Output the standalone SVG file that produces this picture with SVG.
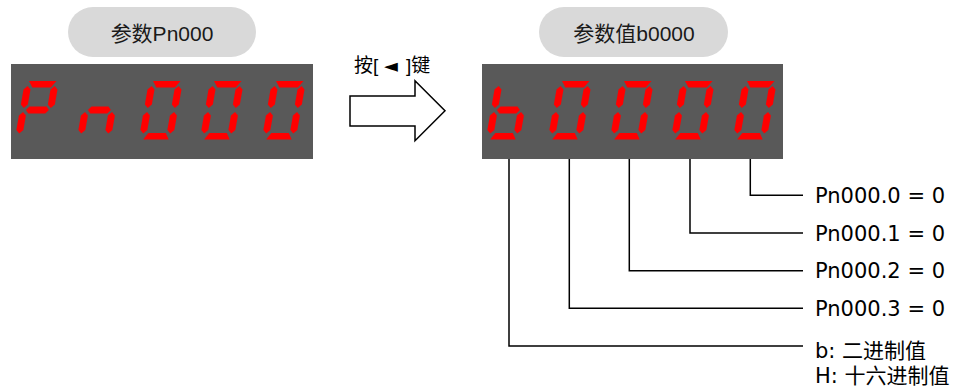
<svg xmlns="http://www.w3.org/2000/svg" width="957" height="389" viewBox="0 0 957 389">
  <style>
    .pill { fill: #d9d9d9; }
    .pilltxt { font-family: "Liberation Sans", "Noto Sans CJK SC", sans-serif; font-size: 21px; fill: #1a1a1a; text-anchor: middle; }
    .panel { fill: #595959; }
    .seg { fill: #ff0000; }
    .conn { fill: none; stroke: #000; stroke-width: 1.5; }
    .lbl { font-family: "DejaVu Sans", "Noto Sans CJK SC", sans-serif; font-size: 21px; fill: #000; }
    .arrowtxt { font-family: "Liberation Sans", "Noto Sans CJK SC", sans-serif; font-size: 19px; fill: #000; }
  </style>
  <defs>
    <polygon id="sa" points="13,0 40.5,0 36,6.5 17.5,6.5"/>
    <polygon id="sb" points="39.5,5 43,8.5 43,23.5 39.5,27 36,23.5 36,8.5"/>
    <polygon id="sc" points="39.5,31 43,34.5 43,49 39.5,52.5 36,49 36,34.5"/>
    <polygon id="sd" points="17.5,52 35,52 39,58.5 13.5,58.5"/>
    <polygon id="se" points="12.5,31 16,34.5 16,49 12.5,52.5 9,49 9,34.5"/>
    <polygon id="sf" points="12.5,5 16,8.5 16,23.5 12.5,27 9,23.5 9,8.5"/>
    <polygon id="sg" points="15,29 18,25.5 35,25.5 38,29 35,32.5 18,32.5"/>
    <g id="d0" class="seg"><use href="#sa"/><use href="#sb"/><use href="#sc"/><use href="#sd"/><use href="#se"/><use href="#sf"/></g>
    <g id="dP" class="seg"><use href="#sa"/><use href="#sb"/><use href="#se"/><use href="#sf"/><use href="#sg"/></g>
    <g id="dn" class="seg"><use href="#sc"/><use href="#se"/><use href="#sg"/></g>
    <g id="db" class="seg"><use href="#sc"/><use href="#sd"/><use href="#se"/><use href="#sf"/><use href="#sg"/></g>
  </defs>

  <g id="label-left">
    <rect class="pill" x="68" y="7" width="188" height="50" rx="25" ry="25"/>
    <text class="pilltxt" x="162" y="41">参数Pn000</text>
  </g>

  <g id="label-right">
    <rect class="pill" x="539" y="7" width="189" height="50" rx="25" ry="25"/>
    <text class="pilltxt" x="634" y="41">参数值b0000</text>
  </g>

  <g id="display-left">
    <rect class="panel" x="11" y="64" width="302" height="95"/>
    <use href="#dP" transform="translate(16,81) skewX(-10)"/>
    <use href="#dn" transform="translate(78,81) skewX(-10)"/>
    <use href="#d0" transform="translate(140,81) skewX(-10)"/>
    <use href="#d0" transform="translate(201,81) skewX(-10)"/>
    <use href="#d0" transform="translate(263,81) skewX(-10)"/>
  </g>

  <g id="display-right">
    <rect class="panel" x="482" y="64" width="301" height="95"/>
    <use href="#db" transform="translate(487,81) skewX(-10)"/>
    <use href="#d0" transform="translate(549,81) skewX(-10)"/>
    <use href="#d0" transform="translate(611,81) skewX(-10)"/>
    <use href="#d0" transform="translate(672,81) skewX(-10)"/>
    <use href="#d0" transform="translate(734,81) skewX(-10)"/>
  </g>

  <g id="arrow">
    <polygon points="350,96 415,96 415,80.7 445,110.7 415,140.7 415,126 350,126" fill="#fff" stroke="#000" stroke-width="1.5" stroke-linejoin="miter"/>
    <text class="arrowtxt" x="354" y="72">按[<tspan x="384" font-family="DejaVu Sans, sans-serif" font-size="18">◄</tspan><tspan x="406">]键</tspan></text>
  </g>

  <g id="connectors">
    <polyline class="conn" points="750.3,159 750.3,195.3 803,195.3"/>
    <polyline class="conn" points="690,159 690,233 803,233"/>
    <polyline class="conn" points="629.3,159 629.3,270.7 803,270.7"/>
    <polyline class="conn" points="569.3,159 569.3,308.3 803,308.3"/>
    <polyline class="conn" points="509,159 509,346 803,346"/>
  </g>

  <g id="bit0"><text class="lbl" x="815" y="203">Pn000.0 = 0</text></g>
  <g id="bit1"><text class="lbl" x="815" y="241">Pn000.1 = 0</text></g>
  <g id="bit2"><text class="lbl" x="815" y="278">Pn000.2 = 0</text></g>
  <g id="bit3"><text class="lbl" x="815" y="316">Pn000.3 = 0</text></g>
  <g id="base">
    <text class="lbl" x="815" y="358">b: 二进制值</text>
    <text class="lbl" x="815" y="383">H: 十六进制值</text>
  </g>
</svg>
